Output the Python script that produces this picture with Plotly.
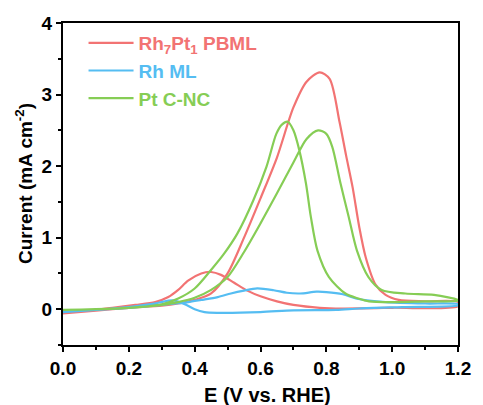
import plotly.graph_objects as go

# ---- data ----
red_E = [0.00, 0.10, 0.20, 0.30, 0.35, 0.40, 0.45, 0.50, 0.55, 0.60, 0.65, 0.70, 0.74, 0.78, 0.81, 0.84, 0.86, 0.88,
         0.90, 0.92, 0.95, 0.98, 1.02, 1.10, 1.20,
         1.20, 1.00, 0.85, 0.78, 0.70, 0.65, 0.60, 0.56, 0.52, 0.48, 0.45, 0.42, 0.38, 0.35, 0.32, 0.28, 0.22, 0.15,
         0.08, 0.00]
red_I = [-0.06, -0.02, 0.02, 0.05, 0.08, 0.13, 0.22, 0.50, 1.00, 1.55, 2.12, 2.82, 3.18, 3.31, 3.22, 2.62, 2.15, 1.70,
         1.15, 0.72, 0.34, 0.20, 0.13, 0.11, 0.10,
         0.04, 0.02, 0.01, 0.02, 0.06, 0.11, 0.18, 0.26, 0.37, 0.48, 0.52, 0.50, 0.40, 0.27, 0.17, 0.10, 0.06, 0.02,
         -0.02, -0.05]

blue_E = [0.00, 0.10, 0.20, 0.25, 0.29, 0.32, 0.34, 0.37, 0.40, 0.43, 0.47, 0.60, 0.70, 0.83, 0.90, 1.03, 1.20,
          1.20, 1.10, 0.98, 0.93, 0.89, 0.85, 0.80, 0.77, 0.72, 0.68, 0.64, 0.59, 0.55, 0.51, 0.47, 0.42, 0.38, 0.34,
          0.30, 0.20, 0.10, 0.00]
blue_I = [-0.04, -0.01, 0.03, 0.06, 0.09, 0.12, 0.12, 0.07, 0.00, -0.04, -0.05, -0.04, -0.015, -0.01, 0.01, 0.03, 0.055,
          0.07, 0.08, 0.10, 0.12, 0.15, 0.21, 0.24, 0.245, 0.22, 0.23, 0.265, 0.29, 0.26, 0.22, 0.17, 0.13, 0.10, 0.08,
          0.06, 0.02, -0.01, -0.04]

green_E = [0.00, 0.10, 0.20, 0.30, 0.35, 0.40, 0.45, 0.50, 0.55, 0.60, 0.65, 0.70, 0.74, 0.775, 0.80, 0.818, 0.843,
           0.868, 0.893, 0.928, 0.968, 1.04, 1.127, 1.20,
           1.20, 1.10, 1.00, 0.93, 0.897, 0.858, 0.808, 0.773, 0.753, 0.738, 0.718, 0.70, 0.683, 0.665, 0.648, 0.618,
           0.578, 0.53, 0.49, 0.449, 0.40, 0.35, 0.30, 0.20, 0.10, 0.00]
green_I = [-0.01, 0.00, 0.02, 0.06, 0.10, 0.16, 0.27, 0.45, 0.80, 1.20, 1.62, 2.05, 2.38, 2.50, 2.45, 2.27, 1.76,
           1.29, 0.82, 0.45, 0.27, 0.22, 0.20, 0.13,
           0.12, 0.11, 0.10, 0.11, 0.15, 0.22, 0.45, 0.82, 1.29, 1.76, 2.22, 2.50, 2.62, 2.58, 2.45, 1.99,
           1.52, 1.06, 0.78, 0.545, 0.29, 0.15, 0.07, 0.02, 0.00, -0.01]

names = ["Rh<sub>7</sub>Pt<sub>1</sub> PBML", "Rh ML", "Pt C-NC"]
colors = ["#F27373", "#55BDF2", "#86CD55"]

x_ticks = [0.0, 0.2, 0.4, 0.6, 0.8, 1.0, 1.2]
y_ticks = [0, 1, 2, 3, 4]

FONT = "Liberation Sans, Arial, sans-serif"

fig = go.Figure()
for E, I, n, c in [(red_E, red_I, names[0], colors[0]),
                   (blue_E, blue_I, names[1], colors[1]),
                   (green_E, green_I, names[2], colors[2])]:
    fig.add_trace(go.Scatter(
        x=E, y=I, mode="lines",
        line=dict(color=c, width=2.2, shape="spline", smoothing=0.8),
        name=f'<span style="color:{c}"><b>{n}</b></span>',
    ))

axis_common = dict(
    showline=True, linecolor="black", linewidth=2, mirror=True,
    ticks="outside", ticklen=5, tickwidth=2, tickcolor="black",
    showgrid=False, zeroline=False,
    tickfont=dict(family=FONT, size=19, color="black", weight="bold"),
)

fig.update_xaxes(range=[0, 1.2], tickvals=x_ticks, ticktext=[f"{v:.1f}" for v in x_ticks],
                 minor=dict(dtick=0.1, ticklen=3, tickwidth=2, ticks="outside", tickcolor="black"),
                 **axis_common)
fig.update_yaxes(range=[-0.5, 4], tickvals=y_ticks, ticktext=[str(v) for v in y_ticks],
                 minor=dict(dtick=0.5, ticklen=3, tickwidth=2, ticks="outside", tickcolor="black"),
                 **axis_common)

fig.add_annotation(text="<b>E (V vs. RHE)</b>", xref="paper", yref="paper", x=0.517, y=0,
                   xanchor="center", yanchor="middle", yshift=-50, showarrow=False,
                   font=dict(family=FONT, size=20, color="black"))
fig.add_annotation(text="<b>Current (mA cm<sup>-2</sup>)</b>", xref="paper", yref="paper", x=0, y=0.5,
                   xanchor="center", yanchor="middle", xshift=-39, textangle=-90, showarrow=False,
                   font=dict(family=FONT, size=19, color="black"))

fig.update_layout(
    width=483, height=405,
    margin=dict(l=63, r=18, t=23, b=60),
    paper_bgcolor="white", plot_bgcolor="white",
    showlegend=True,
    legend=dict(x=0.052, y=0.997, xanchor="left", yanchor="top", bgcolor="rgba(0,0,0,0)",
                font=dict(family=FONT, size=19), itemwidth=45, tracegroupgap=0),
)

fig.write_html("out.html")
